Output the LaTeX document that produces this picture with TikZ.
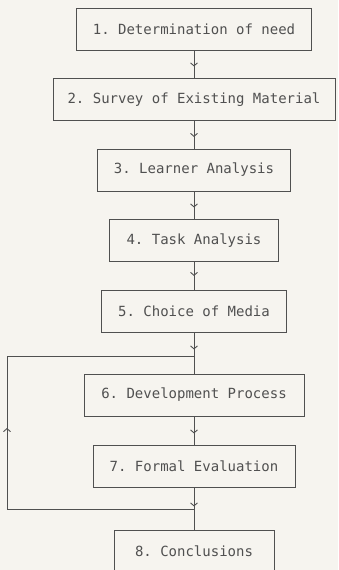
\documentclass[tikz,border=0pt]{standalone}
\usepackage{fontspec}
\setmonofont{DejaVu Sans Mono}
\usetikzlibrary{arrows.meta, calc}
\definecolor{paper}{RGB}{246,244,239}
\definecolor{ink}{RGB}{80,80,80}

\begin{document}
\begin{tikzpicture}[
  x=1pt, y=-1pt,
  every node/.style={font=\ttfamily\fontsize{14}{16}\selectfont, text=ink},
  stage/.style={draw=ink, line width=0.9pt, minimum height=42pt,
                inner sep=0pt, align=center},
  link/.style={draw=ink, line width=0.9pt},
  arr/.style={link, -{Straight Barb[length=3pt, width=7pt]}},
]
\useasboundingbox (0,0) rectangle (338,570);
\fill[paper] (0,0) rectangle (338,570);
\clip (0,0) rectangle (338,570);

% --- rows 1-5: straight chain
\node[stage, minimum width=235pt] (need)    at (194, 29.0) {1. Determination of need};
\node[stage, minimum width=282pt] (survey)  at (194, 99.5) {2. Survey of Existing Material};
\node[stage, minimum width=193pt] (learner) at (194,170.0) {3. Learner Analysis};
\node[stage, minimum width=169pt] (task)    at (194,240.5) {4. Task Analysis};
\node[stage, minimum width=185pt] (media)   at (194,311.0) {5. Choice of Media};

\draw[link] (need.south) -- (survey.north);     \draw[arr] (need.south) -- ++(0,16);
\draw[link] (survey.south) -- (learner.north);  \draw[arr] (survey.south) -- ++(0,16);
\draw[link] (learner.south) -- (task.north);    \draw[arr] (learner.south) -- ++(0,16);
\draw[link] (task.south) -- (media.north);      \draw[arr] (task.south) -- ++(0,14);

% --- rows 6-7: development loop
\coordinate (top) at (194,356);
\coordinate (bot) at (194,509);
\node[stage, minimum width=220pt] (develop) at (194,395) {6. Development Process};
\node[stage, minimum width=202pt] (formal)  at (194,466) {7. Formal Evaluation};

\draw[link] (media.south) -- (top);             \draw[arr] (media.south) -- ++(0,17);
\draw[link] (top) -- (develop.north);
\draw[link] (develop.south) -- (formal.north);  \draw[arr] (develop.south) -- ++(0,17);
\draw[link] (formal.south) -- (bot);            \draw[arr] (formal.south) -- ++(0,19);

% feedback path on the left
\coordinate (bl) at (7,509);
\coordinate (tl) at (7,356);
\draw[link] (bot) -- (bl) -- (tl) -- (top);
\draw[arr] (bl) -- ++(0,-81);

% --- row 8: conclusions (runs off the page)
\node[stage, minimum width=160pt] (concl) at (194,551) {8. Conclusions};
\draw[link] (bot) -- (concl.north);
\end{tikzpicture}
\end{document}
